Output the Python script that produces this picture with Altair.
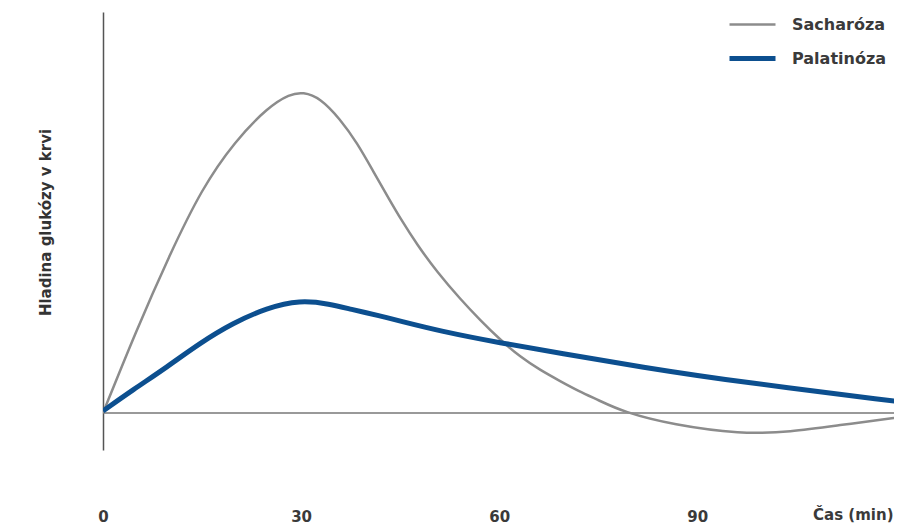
import altair as alt
import pandas as pd

# Time (min) and blood glucose (arbitrary units, 0 = baseline)
t_sach = [0, 5, 10, 15, 20, 25, 28.3, 30.3, 32.9, 35.9, 38.5, 40.9, 43.5, 45, 47.6, 50.6,
          54.1, 57.1, 60.2, 63.2, 66.2, 69.2, 72, 75, 78.8, 86.4, 96.5, 104.1, 111.7, 121]
v_sach = [0, 82, 157, 225, 272, 306, 319, 321, 315, 294, 270, 242, 212, 195, 168, 141,
          114, 93, 73, 56, 43, 32, 22, 13, 1, -12, -21, -19, -12, -4]

t_pal = [0, 4.5, 9.7, 14.7, 19.7, 24.8, 29.8, 34.4, 37.4, 42, 45, 51, 60.2, 69.2, 81.4, 96.5, 121]
v_pal = [2, 23, 46, 70, 90, 105, 113, 109, 104, 97, 92, 82, 70, 60, 46, 31, 11]

series = ["Sacharóza", "Palatinóza"]
colors = ["#8c8c8c", "#0c4f8f"]
widths = [2.5, 5]
x_ticks = [0, 30, 60, 90]

rows = []
for i, (t, v) in enumerate(zip(t_sach, v_sach)):
    rows.append({"t": t, "v": v, "s": series[0], "k": i})
for i, (t, v) in enumerate(zip(t_pal, v_pal)):
    rows.append({"t": t, "v": v, "s": series[1], "k": i})
df = pd.DataFrame(rows)

FONT = "DejaVu Sans"

xscale = alt.Scale(domain=[0, 119.8], nice=False, zero=False)
yscale = alt.Scale(domain=[-37, 401], nice=False, zero=False)

lines = alt.Chart(df).mark_line(interpolate="basis", clip=True).encode(
    x=alt.X("t:Q", scale=xscale,
            axis=alt.Axis(values=x_ticks, grid=False, domain=False, ticks=False,
                          labelFont=FONT, labelFontSize=15, labelFontWeight="bold",
                          labelColor="#3a3a3a", labelBaseline="top", labelPadding=59,
                          labelAlign="center", labelFlush=False,
                          title="Čas (min)", titleFont=FONT, titleFontSize=15,
                          titleFontWeight="bold", titleColor="#3a3a3a",
                          titleAlign="right", titleBaseline="top",
                          titleX=790, titleY=57)),
    y=alt.Y("v:Q", scale=yscale,
            axis=alt.Axis(grid=False, labels=False, ticks=False, domain=True,
                          domainColor="#555555", domainWidth=1.5,
                          title="Hladina glukózy v krvi", titleFont=FONT,
                          titleFontSize=15, titleFontWeight="bold", titleColor="#333333",
                          titleAngle=-90, titleAlign="center", titleBaseline="middle",
                          titleX=-58, titleY=210)),
    color=alt.Color("s:N", scale=alt.Scale(domain=series, range=colors),
                    legend=alt.Legend(title=None, orient="none", legendX=624, legendY=-12,
                                      symbolType="stroke", symbolSize=2116,
                                      symbolStrokeWidth=3.5, labelFont=FONT,
                                      labelFontSize=16, labelFontWeight="bold",
                                      labelColor="#3a3a3a", labelOffset=14,
                                      rowPadding=-4, padding=0)),
    strokeWidth=alt.StrokeWidth("s:N", scale=alt.Scale(domain=series, range=widths),
                                legend=None),
    order=alt.Order("k:Q"),
)

baseline = alt.Chart(pd.DataFrame({"v": [0]})).mark_rule(color="#777777", strokeWidth=1.5).encode(
    y=alt.Y("v:Q", scale=yscale)
)

chart = alt.layer(baseline, lines).properties(
    width=791, height=438,
    autosize=alt.AutoSizeParams(type="none"),
    padding={"left": 95, "top": 4, "right": 0, "bottom": 74},
    background="white",
).configure_view(stroke=None)

chart.save("out.html", embed_options={"renderer": "svg", "actions": False})
